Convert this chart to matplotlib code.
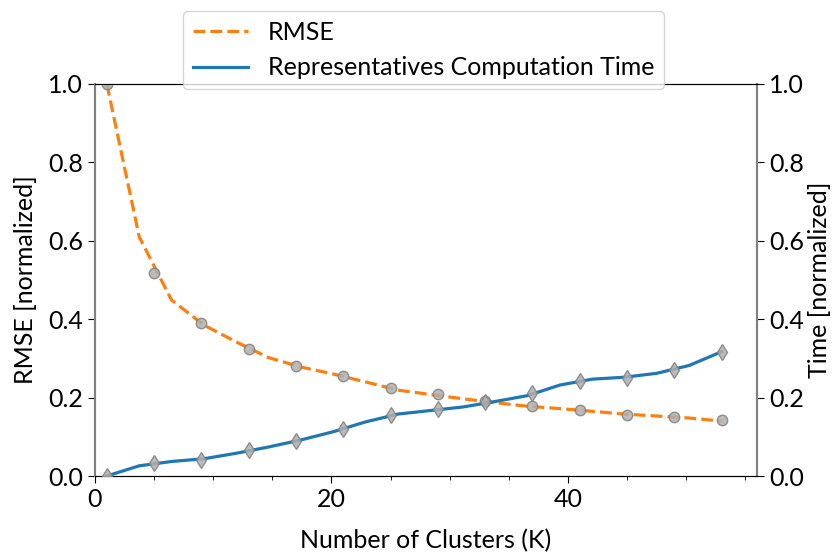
import matplotlib
matplotlib.use("Agg")
import matplotlib.pyplot as plt
from matplotlib.ticker import MultipleLocator

plt.rcParams['font.family'] = ['Lato', 'DejaVu Sans']

# Marker samples (K values)
marker_k = [1, 5, 9, 13, 17, 21, 25, 29, 33, 37, 41, 45, 49, 53]
rmse_markers = [1.0, 0.517, 0.39, 0.324, 0.281, 0.256, 0.224, 0.208, 0.191,
                0.178, 0.168, 0.156, 0.151, 0.142]
time_markers = [0.0, 0.034, 0.042, 0.066, 0.089, 0.119, 0.156, 0.170, 0.188,
                0.213, 0.243, 0.250, 0.271, 0.317]

# Line samples
line_k = [1, 3.74, 6.47, 9.21, 11.95, 14.68, 17.42, 20.16, 22.89, 25.63,
          28.37, 31.11, 33.84, 36.58, 39.32, 42.05, 44.79, 47.53, 50.26, 53]
rmse_line = [1.0, 0.61, 0.449, 0.385, 0.342, 0.302, 0.278, 0.260, 0.240, 0.219,
             0.208, 0.197, 0.187, 0.178, 0.172, 0.165, 0.158, 0.153, 0.148, 0.140]
time_line = [0.0, 0.026, 0.037, 0.044, 0.058, 0.074, 0.092, 0.113, 0.138, 0.158,
             0.167, 0.176, 0.190, 0.205, 0.232, 0.247, 0.252, 0.262, 0.282, 0.317]

fig = plt.figure(figsize=(8.35, 5.54), dpi=100)
ax = fig.add_axes([95/835, 1-476/554, (757-95)/835, (476-84)/554])
ax2 = ax.twinx()

l1, = ax.plot(line_k, rmse_line, color='#ff7f0e', lw=2.3, ls='--', label='RMSE', zorder=3)
ax.plot(marker_k, rmse_markers, ls='none', marker='o', ms=7.5, mfc='#b0b0b0',
        mec='#808080', mew=1.0, alpha=0.85, zorder=4)
l2, = ax2.plot(line_k, time_line, color='#1f77b4', lw=2.3, ls='-',
               label='Representatives Computation Time', zorder=3)
ax2.plot(marker_k, time_markers, ls='none', marker='d', ms=8, mfc='#b0b0b0',
         mec='#808080', mew=1.0, alpha=0.85, zorder=4)

for a in (ax, ax2):
    a.set_ylim(0, 1.0)
    a.yaxis.set_major_locator(MultipleLocator(0.2))
    a.tick_params(axis='both', labelsize=18, length=5)
ax.set_xlim(0, 56)
ax.xaxis.set_major_locator(MultipleLocator(20))
ax.xaxis.set_minor_locator(MultipleLocator(5))
ax.tick_params(axis='x', which='minor', length=3)

for a in (ax, ax2):
    a.spines['left'].set_color('#808080')
    a.spines['right'].set_color('#808080')
    a.spines['left'].set_linewidth(1.5)
    a.spines['right'].set_linewidth(1.5)

ax.set_xlabel('Number of Clusters (K)', fontsize=18, labelpad=13)
ax.set_ylabel('RMSE [normalized]', fontsize=18, labelpad=8)
ax2.set_ylabel('Time [normalized]', fontsize=18, labelpad=3)

fig.legend(handles=[l1, l2], loc='upper center', bbox_to_anchor=(0.507, 1.003),
           fontsize=18, frameon=True, handlelength=2.2, borderpad=0.4)

fig.savefig('out.png', dpi=100)
